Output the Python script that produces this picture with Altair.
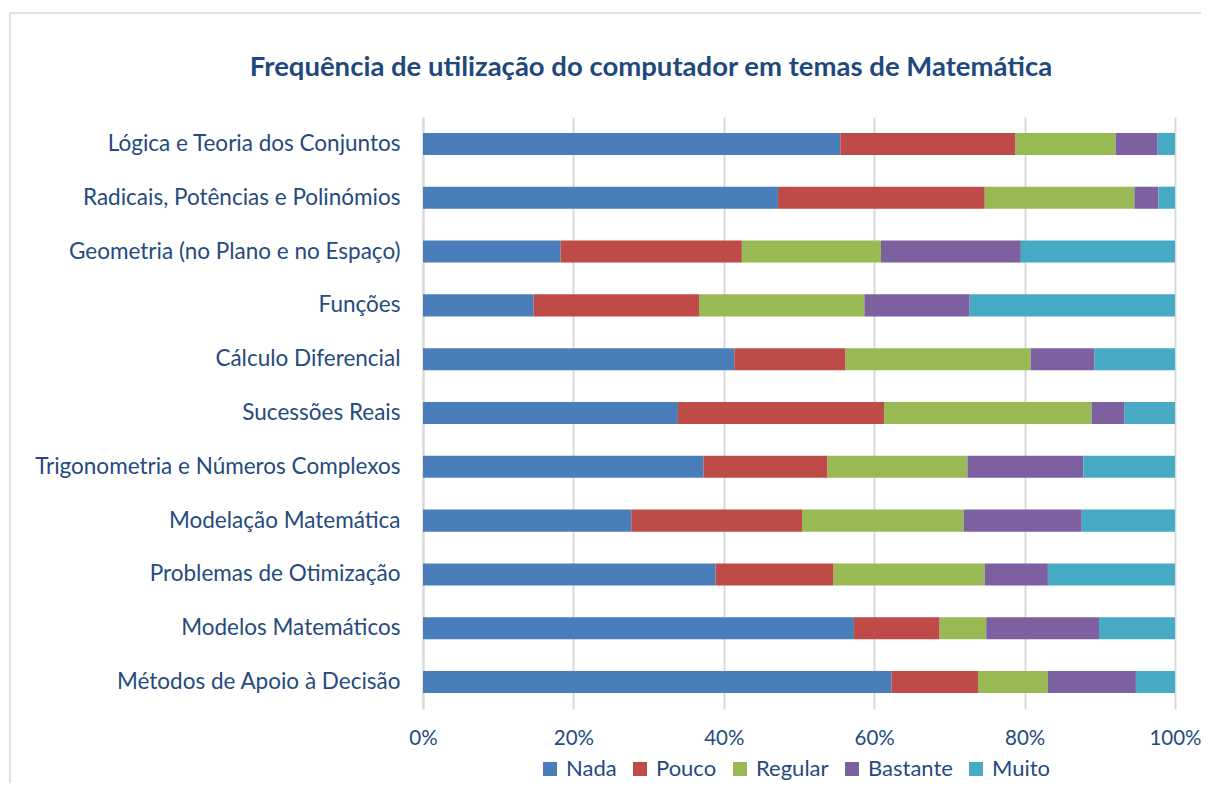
import altair as alt
import pandas as pd

categories = [
    "Lógica e Teoria dos Conjuntos",
    "Radicais, Potências e Polinómios",
    "Geometria (no Plano e no Espaço)",
    "Funções",
    "Cálculo Diferencial",
    "Sucessões Reais",
    "Trigonometria e Números Complexos",
    "Modelação Matemática",
    "Problemas de Otimização",
    "Modelos Matemáticos",
    "Métodos de Apoio à Decisão",
]
series = ["Nada", "Pouco", "Regular", "Bastante", "Muito"]

nada     = [55.5, 47.2, 18.3, 14.7, 41.4, 33.9, 37.3, 27.7, 38.9, 57.3, 62.3]
pouco    = [23.3, 27.5, 24.1, 22.0, 14.8, 27.4, 16.5, 22.7, 15.7, 11.4, 11.5]
regular  = [13.3, 19.9, 18.5, 22.0, 24.6, 27.6, 18.6, 21.5, 20.1, 6.2, 9.3]
bastante = [5.6, 3.2, 18.6, 14.0, 8.5, 4.4, 15.4, 15.7, 8.4, 15.0, 11.7]
muito    = [2.3, 2.2, 20.5, 27.3, 10.7, 6.7, 12.2, 12.4, 16.9, 10.1, 5.2]

colors = ["#4A7EBB", "#BE4B48", "#98B954", "#7D60A0", "#46AAC5"]

rows = []
for s_idx, (s, vals) in enumerate(zip(series, [nada, pouco, regular, bastante, muito])):
    for c, v in zip(categories, vals):
        rows.append({"Tema": c, "Série": s, "Valor": v, "ordem": s_idx})
df = pd.DataFrame(rows)

FONT = "Lato"
LABEL_COLOR = "#254A7E"

bars = alt.Chart(df).mark_bar().encode(
    x=alt.X(
        "Valor:Q",
        stack="normalize",
        scale=alt.Scale(domain=[0, 1], nice=False),
        axis=alt.Axis(
            format=".0%",
            values=[0, 0.2, 0.4, 0.6, 0.8, 1.0],
            title=None,
            domain=False,
            ticks=False,
            grid=True,
            gridColor="#D9D9D9",
            gridWidth=2,
            labelFont=FONT,
            labelFontSize=20.5,
            labelColor=LABEL_COLOR,
            labelPadding=19,
            labelFlush=False,
        ),
    ),
    y=alt.Y(
        "Tema:N",
        sort=categories,
        scale=alt.Scale(paddingInner=0.59, paddingOuter=0.295),
        axis=alt.Axis(
            title=None,
            ticks=False,
            domain=True,
            domainColor="#D9D9D9",
            domainWidth=2,
            labelFont=FONT,
            labelFontSize=22.5,
            labelColor=LABEL_COLOR,
            labelPadding=23,
            labelLimit=400,
        ),
    ),
    color=alt.Color(
        "Série:N",
        scale=alt.Scale(domain=series, range=colors),
        legend=alt.Legend(
            title=None,
            orient="none",
            direction="horizontal",
            legendX=116,
            legendY=641,
            symbolType="square",
            symbolSize=196,
            symbolStrokeWidth=0,
            labelFont=FONT,
            labelFontSize=22,
            labelColor=LABEL_COLOR,
            labelOffset=5,
            columnPadding=12,
        ),
    ),
    order=alt.Order("ordem:Q", sort="ascending"),
)

border = alt.Chart(pd.DataFrame({"a": [0]})).mark_rect(
    fill=None, stroke="#D9D9D9", strokeWidth=1.5
).encode(
    x=alt.value(-413), x2=alt.value(820),
    y=alt.value(-104), y2=alt.value(720),
)

chart = alt.layer(border, bars).properties(
    width=752,
    height=592,
    padding={"left": 415, "top": 109, "right": 26, "bottom": 74},
    autosize=alt.AutoSizeParams(type="none"),
    title=alt.TitleParams(
        text="Frequência de utilização do computador em temas de Matemática",
        font=FONT,
        fontSize=27.5,
        fontWeight="bold",
        color="#1F497D",
        anchor="middle",
        dx=-148,
        dy=107,
        offset=38,
    ),
).configure_view(stroke=None)

chart.save("out.html", embed_options={"renderer": "svg", "actions": False})
